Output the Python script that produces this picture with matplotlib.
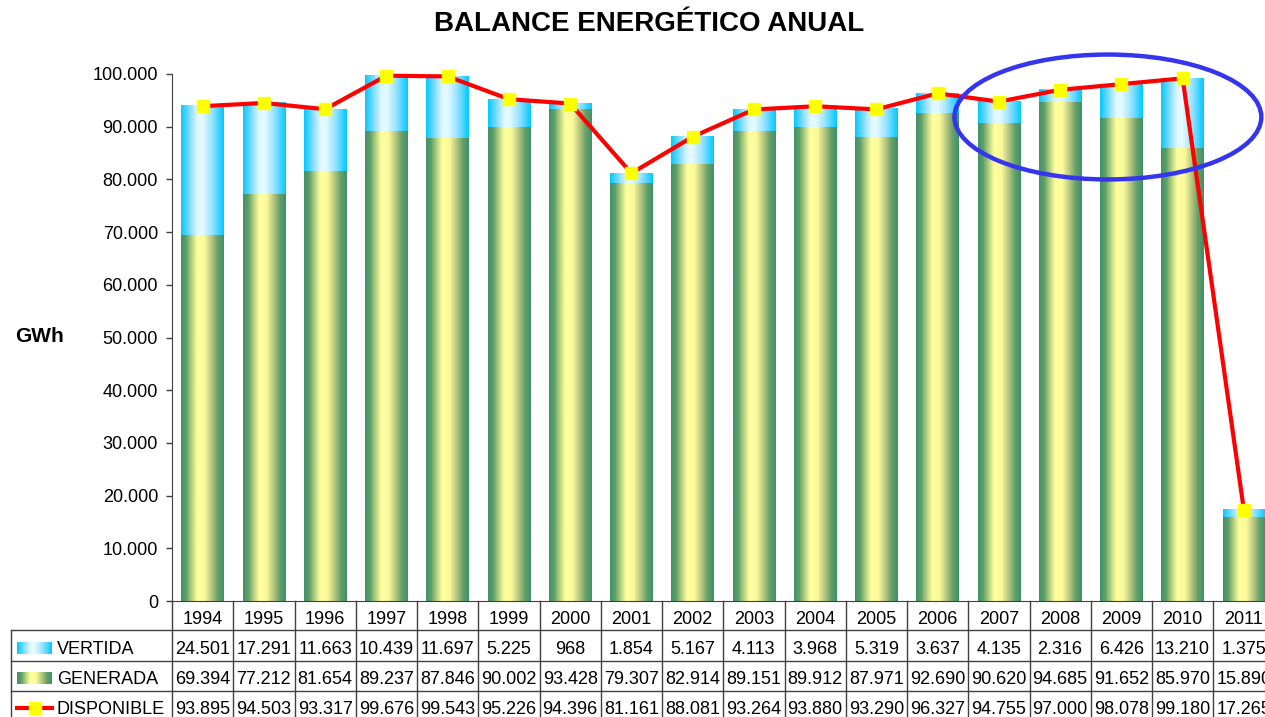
import matplotlib
matplotlib.use("Agg")
import matplotlib.pyplot as plt
import matplotlib.transforms as mtransforms
from matplotlib.colors import LinearSegmentedColormap
from matplotlib.patches import Ellipse
import numpy as np

plt.rcParams['font.family'] = ['Liberation Sans', 'DejaVu Sans']

years = ['1994', '1995', '1996', '1997', '1998', '1999', '2000', '2001', '2002',
         '2003', '2004', '2005', '2006', '2007', '2008', '2009', '2010', '2011']
vertida = [24501, 17291, 11663, 10439, 11697, 5225, 968, 1854, 5167,
           4113, 3968, 5319, 3637, 4135, 2316, 6426, 13210, 1375]
generada = [69394, 77212, 81654, 89237, 87846, 90002, 93428, 79307, 82914,
            89151, 89912, 87971, 92690, 90620, 94685, 91652, 85970, 15890]
disponible = [93895, 94503, 93317, 99676, 99543, 95226, 94396, 81161, 88081,
              93264, 93880, 93290, 96327, 94755, 97000, 98078, 99180, 17265]
row_names = ['VERTIDA', 'GENERADA', 'DISPONIBLE']


def fmt(v):
    return f"{v:,}".replace(",", ".")


green = LinearSegmentedColormap.from_list('green', [
    (0.0, '#3f9068'), (0.12, '#5f9f68'), (0.28, '#c8dc88'), (0.38, '#ffff9e'),
    (0.55, '#fafa9a'), (0.72, '#b4c47e'), (0.86, '#63a06a'), (1.0, '#3f9068')])
blue = LinearSegmentedColormap.from_list('blue', [
    (0.0, '#00c8ff'), (0.2, '#7fdcff'), (0.38, '#e0f8ff'), (0.5, '#e6faff'),
    (0.72, '#9ae4ff'), (1.0, '#00c8ff')])
grad = np.linspace(0, 1, 256).reshape(1, -1)

W, H = 1265, 717
AH = 527
fig = plt.figure(figsize=(W / 100, H / 100), dpi=100)
ax = fig.add_axes([172 / W, 116 / H, 1102.5 / W, AH / H])

x = np.arange(len(years))
bw = 0.69
for i in x:
    g = generada[i]
    v = vertida[i]
    ax.imshow(grad, cmap=green, extent=[i - bw / 2, i + bw / 2, 0, g],
              aspect='auto', zorder=2, interpolation='bilinear')
    ax.imshow(grad, cmap=blue, extent=[i - bw / 2, i + bw / 2, g, g + v],
              aspect='auto', zorder=2, interpolation='bilinear')

ax.plot(x, disponible, color='#ff0000', lw=3, marker='s', markersize=8,
        markerfacecolor='#ffff00', markeredgecolor='#ffff00', zorder=4,
        clip_on=False)

ax.set_xlim(-0.5, len(years) - 0.5)
ax.set_ylim(0, 100000)
ax.set_yticks(np.arange(0, 100001, 10000))
ax.set_yticklabels([fmt(t) for t in range(0, 100001, 10000)], fontsize=13)
ax.tick_params(axis='y', length=4, width=1, color='#404040', pad=6)
ax.set_xticks([])
for s in ['top', 'right']:
    ax.spines[s].set_visible(False)
ax.spines['left'].set_color('#404040')
ax.spines['bottom'].set_color('#404040')

# blue highlight ellipse
ax.add_patch(Ellipse((14.78, 91840), 5.01, 23700, fill=False,
                     edgecolor='#3535f0', lw=3.2, zorder=5, clip_on=False))

# data table below axis (pixel rows converted to axes fraction)
row_lines = [29 / AH, 60 / AH, 90 / AH]
row_mid = [17 / AH, 47 / AH, 77 / AH, 107 / AH]
tr = mtransforms.blended_transform_factory(ax.transData, ax.transAxes)
lc = '#404040'
bottom = -130 / AH
for i in range(len(years) + 1):
    ax.plot([i - 0.5, i - 0.5], [0, bottom], transform=tr, color=lc, lw=1,
            clip_on=False)
left = (11 - 172) / 1102.5
for yl in row_lines:
    ax.plot([left, 1.0], [-yl, -yl], transform=ax.transAxes,
            color=lc, lw=1, clip_on=False)
ax.plot([left, left], [-row_lines[0], bottom], transform=ax.transAxes,
        color=lc, lw=1, clip_on=False)

for i, yr in enumerate(years):
    ax.text(i, -row_mid[0], yr, transform=tr, ha='center', va='center_baseline',
            fontsize=13, clip_on=False)
    for r, vals in enumerate([vertida, generada, disponible]):
        ax.text(i, -row_mid[r + 1], fmt(vals[i]), transform=tr, ha='center',
                va='center_baseline', fontsize=13, clip_on=False)

# legend keys in row labels
sw0 = (17 - 172) / 1102.5
sw1 = (52 - 172) / 1102.5
txt_x = (57 - 172) / 1102.5
sh = 6 / AH
for r, name in enumerate(row_names):
    yc = -row_mid[r + 1]
    if r < 2:
        cm = blue if r == 0 else green
        ax.imshow(grad, cmap=cm, extent=[sw0, sw1, yc - sh, yc + sh],
                  transform=ax.transAxes, aspect='auto', clip_on=False, zorder=3)
    else:
        ax.plot([sw0, sw1], [yc, yc], transform=ax.transAxes,
                color='#ff0000', lw=3, clip_on=False)
        ax.plot([(sw0 + sw1) / 2], [yc], transform=ax.transAxes, marker='s',
                markersize=9, color='#ffff00', clip_on=False)
    ax.text(txt_x, yc, name, transform=ax.transAxes, ha='left',
            va='center_baseline', fontsize=13, clip_on=False)

ax.set_xlim(-0.5, len(years) - 0.5)
ax.set_ylim(0, 100000)

fig.text(649 / W, 1 - 24 / H, 'BALANCE ENERGÉTICO ANUAL', ha='center',
         va='center', fontsize=20, fontweight='bold')
fig.text(40 / W, 1 - 336 / H, 'GWh', ha='center', va='center', fontsize=15,
         fontweight='bold')

fig.savefig('out.png', dpi=100)
